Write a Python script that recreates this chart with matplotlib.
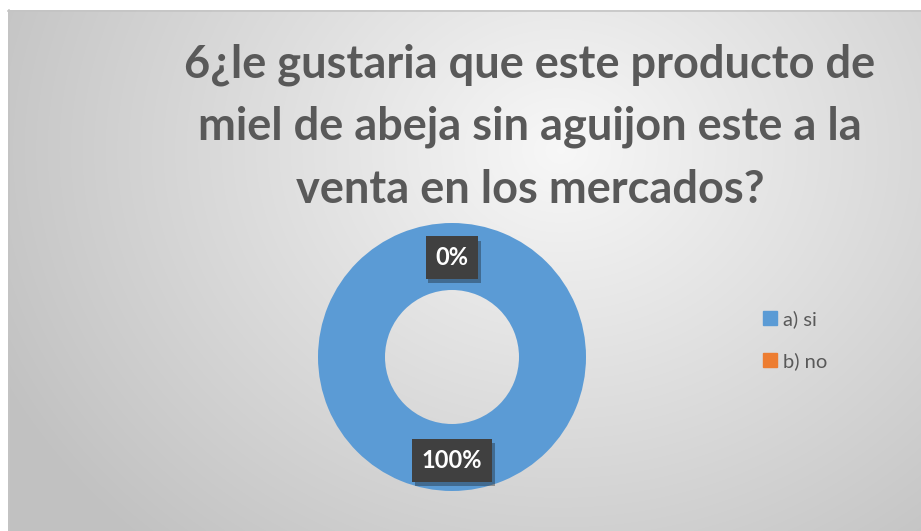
import numpy as np
import matplotlib
matplotlib.use("Agg")
import matplotlib.pyplot as plt
import matplotlib.patheffects as pe

# data
title = "6¿le gustaria que este producto de\nmiel de abeja sin aguijon este a la\nventa en los mercados?"
categories = ["a) si", "b) no"]
values = [100, 0]
colors = ["#5B9BD5", "#ED7D31"]

W, H = 921, 531
fig = plt.figure(figsize=(W / 100, H / 100), dpi=100)
fig.patch.set_facecolor("white")

# background with radial gradient (chart area starts at x=8, y=10)
bg = fig.add_axes([0, 0, 1, 1])
bg.set_xlim(0, W)
bg.set_ylim(H, 0)
bg.axis("off")
yy, xx = np.mgrid[10:H, 8:W]
d = np.hypot((xx - 560) / 1.0, (yy - 150) / 0.85)
g = np.clip(0.97 - 0.19 * d / 560, 0.76, 1)
img = np.dstack([g, g, g])
bg.imshow(img, extent=(8, W, H, 10), aspect="auto", interpolation="bilinear")
bg.plot([8, W], [10.5, 10.5], color="#c4c4c4", lw=1.2)
bg.plot([8.5, 8.5], [10, H], color="#c4c4c4", lw=1.2)

bg.text(530, 127, title, ha="center", va="center", fontsize=32.5, fontweight="bold",
        color="#595959", family="Lato", linespacing=1.6)

# donut
cx, cy, r = 452, 357, 134
ax = fig.add_axes([(cx - r) / W, (H - cy - r) / H, 2 * r / W, 2 * r / H])
wedges, _ = ax.pie(values, colors=colors, startangle=90, counterclock=False,
                   wedgeprops=dict(width=0.5, edgecolor="none"))
ax.set_xlim(-1, 1)
ax.set_ylim(-1, 1)
ax.set_aspect("equal")

for w, v in zip(wedges, values):
    ang = np.deg2rad((w.theta1 + w.theta2) / 2)
    rr = 0.74 if v == 0 else 0.77
    t = ax.text(rr * np.cos(ang), rr * np.sin(ang), f"{v}%", ha="center", va="center",
                fontsize=17, fontweight="bold", color="white", family="Lato",
                bbox=dict(boxstyle="square,pad=0.42", facecolor="#404040", edgecolor="none"))
    t.get_bbox_patch().set_path_effects([pe.SimplePatchShadow(offset=(2, -3), alpha=0.35),
                                          pe.Normal()])

# legend
handles = [plt.Rectangle((0, 0), 1, 1, color=c) for c in colors]
leg = fig.legend(handles, categories, loc="center left", bbox_to_anchor=(745 / W, 1 - 340 / H),
                 frameon=False, fontsize=14.5, handlelength=0.7, handleheight=0.7,
                 handletextpad=0.3, labelspacing=1.2)
for txt in leg.get_texts():
    txt.set_color("#595959")
    txt.set_family("Lato")

fig.savefig("out.png", dpi=100)
